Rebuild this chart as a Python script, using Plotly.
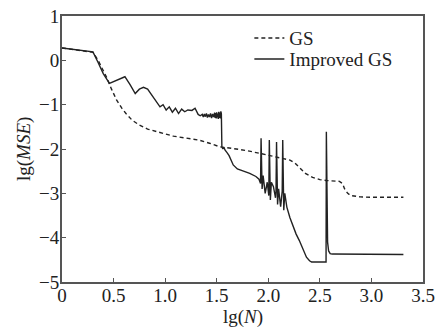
import plotly.graph_objects as go

# GS (dashed) curve
gs_x = [0.0, 0.10, 0.20, 0.30, 0.35, 0.40, 0.43, 0.48, 0.53, 0.58, 0.62, 0.68, 0.75, 0.83, 0.91,
        1.00, 1.08, 1.20, 1.33, 1.43, 1.53, 1.66, 1.80, 1.92, 2.02, 2.11, 2.21, 2.26, 2.30,
        2.36, 2.43, 2.50, 2.56, 2.62, 2.69, 2.72, 2.74, 2.77, 2.80, 2.89, 3.00, 3.31]
gs_y = [0.28, 0.25, 0.22, 0.18, 0.00, -0.22, -0.37, -0.65, -0.90, -1.08, -1.20, -1.35, -1.46, -1.55, -1.61,
        -1.66, -1.71, -1.75, -1.80, -1.87, -1.95, -1.99, -2.04, -2.10, -2.15, -2.20, -2.25, -2.32, -2.42,
        -2.55, -2.64, -2.69, -2.71, -2.72, -2.73, -2.78, -2.90, -3.00, -3.05, -3.08, -3.09, -3.09]

# Improved GS (solid) curve
imp_x = [0.0, 0.10, 0.20, 0.30, 0.35, 0.40, 0.46, 0.53, 0.61, 0.66, 0.71, 0.75, 0.79, 0.83, 0.88, 0.95,
         0.98, 1.01, 1.04, 1.07, 1.10, 1.13, 1.16, 1.19, 1.22, 1.26, 1.29, 1.32, 1.34,
         1.36, 1.37, 1.38, 1.39, 1.40, 1.41, 1.42, 1.43, 1.44, 1.45, 1.46, 1.47, 1.48, 1.485,
         1.49, 1.495, 1.50, 1.505, 1.51, 1.515, 1.52, 1.525, 1.53, 1.535, 1.54, 1.545,
         1.55, 1.56, 1.57, 1.58, 1.60, 1.62, 1.66, 1.70, 1.76, 1.82, 1.88, 1.91,
         1.925, 1.93, 1.94, 1.95, 1.97, 1.99, 2.005, 2.01, 2.02, 2.03, 2.05, 2.07, 2.075, 2.08,
         2.09, 2.10, 2.12, 2.13, 2.135, 2.14, 2.15, 2.16, 2.18, 2.21, 2.24, 2.27, 2.30, 2.34,
         2.37, 2.40, 2.42, 2.50, 2.56, 2.563, 2.567, 2.575, 2.585, 2.60, 2.62, 3.0, 3.31]
imp_y = [0.28, 0.25, 0.22, 0.19, -0.05, -0.30, -0.52, -0.45, -0.37, -0.55, -0.75, -0.65, -0.61, -0.65, -0.82, -1.05,
         -1.00, -1.12, -1.05, -1.17, -1.08, -1.20, -1.10, -1.16, -1.12, -1.13, -1.08, -1.22, -1.25,
         -1.22, -1.28, -1.21, -1.27, -1.20, -1.29, -1.22, -1.28, -1.20, -1.30, -1.21, -1.28, -1.18, -1.30,
         -1.19, -1.31, -1.17, -1.29, -1.20, -1.32, -1.16, -1.30, -1.18, -1.31, -1.15, -1.20,
         -1.95, -2.00, -1.96, -2.02, -2.08, -2.15, -2.36, -2.45, -2.50, -2.55, -2.62, -2.68,
         -2.78, -1.76, -2.90, -2.60, -3.00, -2.75, -3.05, -1.80, -3.15, -2.75, -2.85, -3.10, -2.95, -1.84,
         -3.25, -2.90, -3.30, -3.05, -2.95, -1.80, -3.38, -3.00, -3.31, -3.55, -3.76, -3.92, -4.06, -4.28,
         -4.44, -4.52, -4.55, -4.55, -4.55, -1.61, -3.70, -4.10, -4.30, -4.36, -4.37, -4.38, -4.38]

x_ticks = [0, 0.5, 1.0, 1.5, 2.0, 2.5, 3.0, 3.5]
x_labels = ["0", "0.5", "1.0", "1.5", "2.0", "2.5", "3.0", "3.5"]
y_ticks = [1, 0, -1, -2, -3, -4, -5]
y_labels = ["1", "0", "\u22121", "\u22122", "\u22123", "\u22124", "\u22125"]
x_title = "lg(<i>N</i>)"
y_title = "lg(<i>MSE</i>)"

font_family = "Liberation Serif"
line_col = "#222222"
frame_col = "#555555"

fig = go.Figure()
fig.add_trace(go.Scatter(x=gs_x, y=gs_y, mode="lines", name="GS", legend="legend",
                         line=dict(color=line_col, width=1.4, dash="4px,3px")))
fig.add_trace(go.Scatter(x=imp_x, y=imp_y, mode="lines", name="Improved GS", legend="legend2",
                         line=dict(color=line_col, width=1.4)))

leg_common = dict(xanchor="left", yanchor="middle", bgcolor="rgba(0,0,0,0)",
                  font=dict(size=19), itemwidth=30)

fig.update_layout(
    width=443, height=327,
    margin=dict(l=62, r=20, t=16, b=45),
    paper_bgcolor="white", plot_bgcolor="white",
    font=dict(family=font_family, size=19, color="#222222"),
    showlegend=True,
    legend=dict(x=0.519, y=0.917, **leg_common),
    legend2=dict(x=0.519, y=0.838, **leg_common),
    xaxis=dict(range=[0, 3.5], tickvals=x_ticks, ticktext=x_labels, ticks="inside", ticklen=4,
               tickcolor=frame_col, showline=True, linecolor=frame_col, linewidth=2, mirror=True,
               showgrid=False, zeroline=False, ticklabelstandoff=-5, automargin=False),
    yaxis=dict(range=[-5, 1], tickvals=y_ticks, ticktext=y_labels, ticks="inside", ticklen=4,
               tickcolor=frame_col, showline=True, linecolor=frame_col, linewidth=2, mirror=True,
               showgrid=False, zeroline=False, ticklabelstandoff=-3, automargin=False),
    annotations=[
        dict(text=x_title, xref="paper", yref="paper", x=0.5, y=-35 / 266,
             xanchor="center", yanchor="middle", showarrow=False, font=dict(size=19)),
        dict(text=y_title, xref="paper", yref="paper", x=(24 - 62) / 361, y=0.5,
             xanchor="center", yanchor="middle", textangle=-90, showarrow=False, font=dict(size=19)),
    ],
)

fig.write_html("out.html")
